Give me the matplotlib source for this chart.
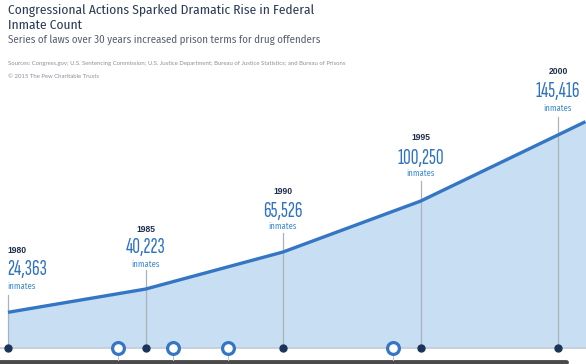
import matplotlib
matplotlib.use("Agg")
import matplotlib.pyplot as plt

# data
years = [1980, 1985, 1990, 1995, 2000, 2001]
inmates = [24363, 40223, 65526, 100250, 145416, 154500]
labels = ["24,363", "40,223", "65,526", "100,250", "145,416"]
law_years = [1984, 1986, 1988, 1994]

W, H = 586, 364

NUM_FONT = ["Sofia Sans Extra Condensed", "Saira ExtraCondensed", "Antonio", "Oswald",
            "Barlow Condensed", "DejaVu Sans"]
HEAD_FONT = ["Fira Sans Condensed", "Barlow Semi Condensed", "Roboto Condensed", "DejaVu Sans"]
SMALL_FONT = ["Lato", "DejaVu Sans"]
YEAR_FONT = ["Liberation Sans", "DejaVu Sans"]

navy = "#1d2d4a"
blue = "#2f72c0"
light_blue = "#3f8ad0"
fill_col = "#c8def2"
grey_line = "#aab3bd"

fig = plt.figure(figsize=(W / 100, H / 100), dpi=100)
ax = fig.add_axes([0, 0, 1, 1])
renderer = fig.canvas.get_renderer()


def fit(t, target_px):
    w = t.get_window_extent(renderer).width
    t.set_fontsize(t.get_fontsize() * target_px / w)
    return t.get_fontsize()


# pixel mapping: x = 8 + (year-1980)*27.5, y = 348 - value*0.001465
px_per_year = 27.5
px_per_val = 0.001465
ax.set_xlim(1980 - 8 / px_per_year, 1980 + (W - 8) / px_per_year)
ax.set_ylim(-(H - 348) / px_per_val, 348 / px_per_val)
ax.axis("off")


def yval(py):
    return (348 - py) / px_per_val


def xyear(px):
    return 1980 + (px - 8) / px_per_year


ax.fill_between(years, inmates, 0, color=fill_col, lw=0, zorder=1)
ax.plot(years, inmates, color="#3576c4", lw=2.4, zorder=4, solid_capstyle="butt")
ax.axhline(0, color="#c6ccd4", lw=1.2, zorder=2)

# bottom dark bar
ax.plot([xyear(-10), xyear(566)], [yval(362), yval(362)], color="#4a4a4a", lw=3.5,
        solid_capstyle="round", zorder=2)

# ticks from law markers to bar
for y in law_years:
    ax.plot([y, y], [0, yval(360)], color="#b9c3cc", lw=0.8, zorder=2)

# vertical lines from labels
line_tops = [295, 270, 233, 181, 117]
for y, top in zip(years[:5], line_tops):
    ax.plot([y, y], [0, yval(top)], color=grey_line, lw=0.9, zorder=3)

ax.plot(years[:5], [0] * 5, "o", color="#1b355a", ms=5, zorder=5)
ax.plot(law_years, [0] * 4, "o", mfc="white", mec="#3576c4", mew=2.3, ms=8.5, zorder=5)

# sizes fitted to widths measured on the reference
probe = fig.text(0, 0, "100,250", fontsize=10, family=NUM_FONT, fontweight="medium")
num_size = fit(probe, 46)
probe.remove()
probe = fig.text(0, 0, "1980", fontsize=10, family=YEAR_FONT, fontweight="bold")
year_size = fit(probe, 19)
probe.remove()
probe = fig.text(0, 0, "inmates", fontsize=10, family=HEAD_FONT)
inm_size = fit(probe, 28)
probe.remove()

# value labels
year_y = [250, 229, 191, 138, 72]
num_y = [270, 247, 211, 158, 91]
inm_y = [286, 264, 226, 173, 108]
for i, (y, lab) in enumerate(zip(years[:5], labels)):
    x = y if i > 0 else xyear(7)
    ha = "center" if i > 0 else "left"
    ax.text(x, yval(year_y[i]), str(y), ha=ha, va="center", color=navy,
            fontsize=year_size, fontweight="bold", family=YEAR_FONT)
    ax.text(x, yval(num_y[i]), lab, ha=ha, va="center", color=blue,
            fontsize=num_size, family=NUM_FONT, fontweight="medium")
    ax.text(x, yval(inm_y[i]), "inmates", ha=ha, va="center", color=light_blue,
            fontsize=inm_size, family=HEAD_FONT)


# header
def ftext(px, py, s, **kw):
    return fig.text(px / W, 1 - py / H, s, va="baseline", ha="left", **kw)


t1 = ftext(8, 14, "Congressional Actions Sparked Dramatic Rise in Federal",
           fontsize=10, color="#2c3a57", family=HEAD_FONT)
tsize = fit(t1, 305)
ftext(8, 29, "Inmate Count", fontsize=tsize, color="#2c3a57", family=HEAD_FONT)
t3 = ftext(8, 43, "Series of laws over 30 years increased prison terms for drug offenders",
           fontsize=8, color="#58606e", family=HEAD_FONT)
fit(t3, 313)
t4 = ftext(8, 65, "Sources: Congress.gov; U.S. Sentencing Commission; U.S. Justice Department; "
           "Bureau of Justice Statistics; and Bureau of Prisons",
           fontsize=4.3, color="#8b9099", family=SMALL_FONT)
ssize = fit(t4, 337)
ftext(8, 78, "\u00a9 2015 The Pew Charitable Trusts", fontsize=ssize, color="#8b9099",
      family=SMALL_FONT)

fig.savefig("out.png", dpi=100)
